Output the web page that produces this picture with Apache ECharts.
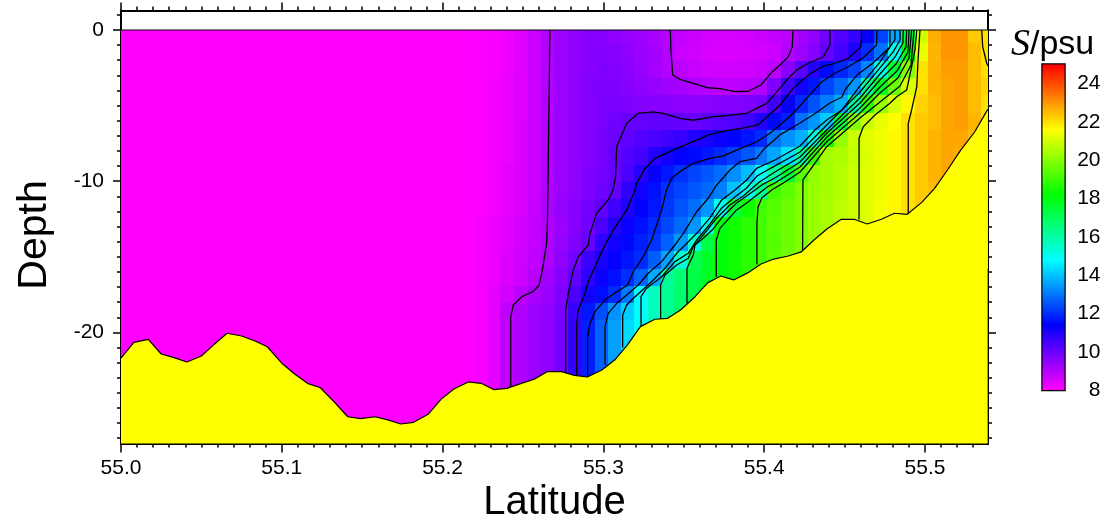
<!DOCTYPE html>
<html>
<head>
<meta charset="utf-8">
<title>S/psu section</title>
<script src="https://cdn.jsdelivr.net/npm/echarts@6/dist/echarts.min.js"></script>
<style>
html,body{margin:0;padding:0;background:#fff}
#chart{width:1104px;height:519px}
</style>
</head>
<body>
<div id="chart"></div>
<script>
// station latitudes, one per profile
var lats = [55.000,55.008,55.017,55.025,55.033,55.041,55.050,55.058,55.066,55.075,55.083,55.091,55.100,55.108,55.116,55.124,55.133,55.141,55.149,55.158,55.166,55.174,55.182,55.191,55.199,55.207,55.216,55.224,55.232,55.240,55.249,55.257,55.265,55.274,55.282,55.290,55.299,55.307,55.315,55.323,55.332,55.340,55.348,55.357,55.365,55.373,55.381,55.390,55.398,55.406,55.415,55.423,55.431,55.439,55.448,55.456,55.464,55.473,55.481,55.489,55.498,55.506,55.514,55.522,55.531,55.539];
// sea bed depth at each station
var seabed = [-21.71,-20.66,-20.46,-21.43,-21.67,-21.96,-21.56,-20.79,-20.06,-20.24,-20.55,-20.95,-22.04,-22.75,-23.37,-23.66,-24.65,-25.58,-25.71,-25.58,-25.79,-26.06,-25.95,-25.42,-24.43,-23.74,-23.28,-23.37,-23.79,-23.70,-23.37,-23.10,-22.60,-22.60,-22.85,-22.95,-22.49,-21.83,-20.83,-19.62,-19.13,-19.07,-18.52,-17.64,-16.71,-16.27,-16.53,-16.05,-15.48,-15.15,-14.95,-14.68,-13.89,-13.16,-12.52,-12.52,-12.83,-12.52,-12.12,-12.19,-11.40,-10.47,-9.26,-7.98,-6.73,-5.25];
// row edges of the salinity grid
var depthEdges = [0,-0.88,-2.03,-3.17,-4.32,-5.47,-6.61,-7.76,-8.90,-10.05,-11.20,-12.34,-13.49,-14.63,-15.78,-16.93,-18.07,-19.21,-20.36,-21.50,-22.65,-23.80,-24.94,-26.09];
// salinity west of the front is flat, drawn as one cell
var freshLatEdges = [55.0,55.195];
var freshSalinity = 8;
// salinity rows, top to bottom, first value is station 24 (rows stop at the sea bed)
var firstStation = 24;
var salinityRows = [
[8,8,8,8.05,8.1,8.2,8.4,8.7,9,9.3,9.5,9.6,9.6,9.5,9.4,9.3,9.15,9,8.8,8.7,8.6,8.55,8.55,8.6,8.7,8.8,8.9,9.2,9.5,9.9,10.3,10.7,11.3,12.3,13.6,17.5,21,22.7,23,23,22.3,22],
[8,8,8,8.05,8.1,8.2,8.4,8.7,9,9.3,9.5,9.6,9.65,9.6,9.5,9.35,9.2,9,8.75,8.65,8.55,8.5,8.5,8.55,8.6,8.7,9,9.3,9.6,10.05,10.5,11,12,12.9,15,18,21.3,22.6,23,23,22.5,22],
[8,8,8,8.05,8.1,8.2,8.4,8.7,9,9.3,9.5,9.6,9.7,9.65,9.55,9.4,9.2,9,8.9,8.75,8.65,8.6,8.6,8.65,8.75,8.9,9.6,10.2,10.9,11.5,11.9,12.3,13.2,15.1,17.5,20,22,22.6,22.9,22.9,22.5,22],
[8,8,8,8.05,8.15,8.25,8.4,8.7,9,9.3,9.5,9.65,9.7,9.7,9.6,9.5,9.4,9.3,9.2,9.1,9,8.9,8.9,8.95,9.05,9.7,10.6,11.2,11.7,12.3,12.8,13.4,16.2,17.8,19.6,21.1,22,22.6,22.8,22.9,22.5,22.2],
[8,8,8,8.05,8.15,8.25,8.4,8.7,9,9.3,9.5,9.65,9.75,9.75,9.7,9.65,9.6,9.6,9.55,9.55,9.55,9.6,9.65,9.7,9.85,10.5,11.3,11.95,12.5,13.05,13.7,16,18.8,20.2,21.05,21.7,22.2,22.5,22.8,22.9,22.5,22],
[8,8,8,8.05,8.15,8.25,8.45,8.7,9,9.3,9.5,9.65,9.75,9.9,10,10.05,10.1,10.1,10.05,10,10.15,10.25,10.35,10.55,10.95,11.5,11.8,12.9,13.4,14.1,17.5,20,20.9,21.3,21.6,22,22.3,22.5,22.8,22.9,22.6,22],
[8,8,8,8.05,8.15,8.25,8.45,8.7,9,9.3,9.5,9.65,9.8,9.95,10.15,10.3,10.4,10.55,10.7,10.95,11.1,11.25,11.45,11.65,11.95,12.9,13.35,13.75,15.2,18.4,20.2,20.9,21.2,21.4,21.7,22,22.3,22.6,22.8,22.8,22.5,22],
[8,8,8,8.05,8.15,8.25,8.45,8.7,9,9.3,9.5,9.65,9.8,10,10.3,10.5,10.9,11.15,11.35,11.5,11.7,11.95,12.2,12.55,13,13.6,14.4,16,18.9,20.4,20.5,20.8,21.15,21.4,21.7,22,22.3,22.6,22.8,22.7,22.5,22],
[8,8,8,8.05,8.15,8.3,8.5,8.7,9,9.3,9.5,9.7,9.85,10,10.4,10.9,11.3,11.7,12.05,12.3,12.55,12.85,13.3,13.9,14.9,16.1,17.5,19.3,20.15,20.4,20.6,20.9,21.2,21.4,21.7,22,22.3,22.6,22.8,22.7,22.5,22],
[8,8,8,8.05,8.15,8.3,8.5,8.75,9,9.3,9.5,9.7,9.9,10.1,10.8,11.2,11.6,12.05,12.3,12.55,12.8,13.1,14,15.2,16.4,19.1,19.4,19.9,20.2,20.4,20.6,20.9,21.2,21.4,21.7,22,22.3,22.5,22.8,22.7,22.5,22],
[8,8,8,8.05,8.15,8.3,8.5,8.8,9.1,9.4,9.6,9.85,10.1,10.55,11,11.35,11.7,12.1,12.5,12.85,13.4,15,17.5,18.4,19.05,19.35,19.65,19.95,20.2,20.45,20.7,20.95,21.2,21.45,21.7,22,22.3,22.5,22.8,22.7,22.5,22],
[8,8,8,8.1,8.25,8.4,8.6,8.8,9,9.3,9.6,9.9,10.4,10.9,11.25,11.6,11.95,12.35,12.8,13.4,15,18,18.4,18.75,19.1,19.4,19.65,19.95,20.2,20.45,20.75,20.95,21.2,21.45,21.7,22,22.3,22.5,22.8,22.7,22.5,22],
[8,8,8,8.1,8.25,8.4,8.6,8.8,9.05,9.4,9.7,10,10.8,11.2,11.5,11.8,12.1,12.7,13.45,15.3,17.3,18.1,18.4,18.7,19.1,19.35,19.65,19.95,20.25,20.5,20.75,20.95,21.2,21.45,21.7,22,22.3,22.5,22.8,22.7,22.5,22],
[8,8,8,8.1,8.25,8.45,8.65,8.85,9.1,9.5,9.85,10.6,11.1,11.35,11.65,11.95,12.65,13.6,15.4,17.1,17.7,18.1,18.4,18.75,19.1,19.4,19.7,20,20.25,20.5,20.75,20.95,21.2,21.45,21.7,22,22.3,22.5,22.8,22.7,22.5,22],
[8,8,8,8.1,8.25,8.45,8.7,8.95,9.25,9.6,10.1,10.8,11.25,11.6,12,12.7,13.7,16.15,16.7,17.25,17.75,18.15,18.4,18.75,19.1],
[8,8,8,8.1,8.3,8.6,8.9,9.15,9.35,9.7,10.4,11.15,11.55,11.95,13,14.8,15.65,16.25,16.75,17.25,17.7,18.15,18.4],
[8,8,8,8.1,8.35,8.85,9.1,9.3,9.45,9.75,10.7,11.7,12.45,13.35,14.15,14.9,15.7,16.25,16.75,17.25,17.7],
[8,8,8,8.1,8.35,8.85,9.1,9.3,9.5,9.8,10.75,11.8,12.7,13.55,14.3,14.95,15.7,16.25,16.75],
[8,8,8,8.1,8.35,8.85,9.1,9.3,9.5,9.8,10.75,11.8,12.7,13.55,14.3,14.95],
[8,8,8,8.1,8.35,8.85,9.1,9.3,9.5,9.8,10.75,11.8,12.7,13.55,14.3],
[8,8,8,8.1,8.35,8.85,9.1,9.3,9.5,9.8,10.75,11.8,12.7],
[8,8,8],
[8,8]
];

// contour lines, level 9 upward
var contour9 = [[55.2668,0],[55.2662,-4.63],[55.2655,-10.58],[55.2654,-11.9],[55.2647,-14.09],[55.2624,-15.66],[55.2601,-16.87],[55.2562,-17.31],[55.2492,-17.64],[55.2440,-18.19],[55.2424,-18.96],[55.2424,-23.7]];
var contour9b = [[55.3416,0],[55.3420,-1.32],[55.3431,-2.98],[55.3476,-3.26],[55.3559,-3.53],[55.3652,-3.82],[55.3725,-3.88],[55.3818,-4.08],[55.3901,-4.05],[55.3980,-3.64],[55.4049,-2.78],[55.4098,-2.31],[55.4150,-1.77],[55.4175,-1.10],[55.4179,0]];
var contour10 = [[55.4409,0],[55.4409,-0.99],[55.4368,-1.77],[55.4274,-2.20],[55.4202,-2.65],[55.4140,-3.31],[55.4098,-3.84],[55.4016,-4.85],[55.3891,-5.51],[55.3767,-5.67],[55.3683,-5.73],[55.3559,-5.97],[55.3476,-5.84],[55.3372,-5.51],[55.3310,-5.41],[55.3217,-5.51],[55.3145,-6.17],[55.3083,-7.72],[55.3076,-9.70],[55.3060,-10.58],[55.3030,-11.24],[55.2958,-12.12],[55.2917,-13.45],[55.2906,-14.22],[55.2844,-14.99],[55.2813,-15.87],[55.2782,-17.41],[55.2766,-18.52],[55.2766,-22.75]];
var contour11 = [[55.4606,0],[55.4602,-1.10],[55.4523,-1.87],[55.4440,-2.20],[55.4358,-2.43],[55.4274,-2.98],[55.4181,-3.86],[55.4098,-4.96],[55.3963,-6.28],[55.3860,-6.50],[55.3767,-6.66],[55.3663,-6.90],[55.3580,-7.28],[55.3497,-7.65],[55.3414,-8.05],[55.3321,-8.49],[55.3259,-9.15],[55.3207,-10.14],[55.3197,-10.58],[55.3145,-11.90],[55.3062,-13.23],[55.3010,-14.22],[55.2958,-15.43],[55.2906,-16.65],[55.2886,-17.41],[55.2844,-18.52],[55.2834,-19.40],[55.2834,-22.85]];
var contour12 = [[55.4701,0],[55.4699,-0.99],[55.4614,-1.85],[55.4523,-2.43],[55.4440,-2.86],[55.4358,-3.42],[55.4274,-4.41],[55.4181,-5.51],[55.4098,-6.28],[55.4036,-6.83],[55.3953,-7.39],[55.3829,-7.94],[55.3746,-8.33],[55.3663,-8.49],[55.3559,-8.82],[55.3476,-9.37],[55.3425,-9.81],[55.3393,-10.58],[55.3362,-11.90],[55.3300,-13.89],[55.3248,-14.99],[55.3186,-15.99],[55.3151,-16.87],[55.3083,-17.31],[55.3010,-17.86],[55.2948,-18.63],[55.2917,-19.40],[55.2902,-20.28],[55.2902,-22.95]];
var contour13 = [[55.4782,0],[55.4782,-1.12],[55.4677,-2.18],[55.4577,-2.98],[55.4502,-3.97],[55.4484,-4.43],[55.4409,-4.83],[55.4303,-5.62],[55.4202,-6.28],[55.4098,-6.94],[55.4005,-7.80],[55.3953,-8.49],[55.3849,-8.71],[55.3787,-9.26],[55.3705,-10.25],[55.3652,-11.13],[55.3580,-12.02],[55.3497,-13.45],[55.3445,-14.22],[55.3362,-15.32],[55.3279,-16.09],[55.3217,-16.87],[55.3145,-17.53],[55.3083,-18.08],[55.3030,-18.74],[55.3010,-19.62],[55.3010,-22.15]];
var contour14 = [[55.4813,0],[55.4813,-0.66],[55.4770,-1.32],[55.4720,-2.12],[55.4596,-3.70],[55.4484,-5.29],[55.4389,-5.95],[55.4316,-6.61],[55.4223,-7.67],[55.4067,-8.60],[55.3955,-9.13],[55.3891,-9.92],[55.3818,-10.58],[55.3736,-11.24],[55.3663,-12.43],[55.3590,-13.34],[55.3539,-13.89],[55.3456,-14.77],[55.3383,-15.76],[55.3290,-16.75],[55.3197,-17.64],[55.3145,-18.19],[55.3120,-18.85],[55.3120,-21.0]];
var contour15 = [[55.4845,0],[55.4845,-0.66],[55.4801,-1.46],[55.4720,-2.51],[55.4596,-4.10],[55.4389,-6.28],[55.4223,-8.07],[55.4067,-8.99],[55.3955,-9.66],[55.3891,-10.45],[55.3818,-11.05],[55.3736,-11.77],[55.3663,-12.83],[55.3580,-13.89],[55.3528,-14.77],[55.3445,-15.32],[55.3363,-16.32],[55.3269,-17.08],[55.3234,-17.64],[55.3234,-19.62]];
var contour16 = [[55.4865,0],[55.4863,-0.86],[55.4813,-1.79],[55.4720,-2.91],[55.4596,-4.50],[55.4389,-6.61],[55.4223,-8.40],[55.4067,-9.39],[55.3970,-10.05],[55.3870,-10.98],[55.3787,-11.57],[55.3705,-12.43],[55.3642,-13.29],[55.3559,-14.33],[55.3528,-15.10],[55.3456,-15.54],[55.3383,-16.20],[55.3356,-16.87],[55.3356,-19.07]];
var contour17 = [[55.4886,0],[55.4882,-1.12],[55.4820,-2.25],[55.4720,-3.31],[55.4596,-4.83],[55.4389,-6.83],[55.4223,-8.73],[55.4067,-9.79],[55.3994,-10.19],[55.3891,-10.98],[55.3829,-11.44],[55.3746,-12.30],[55.3683,-13.16],[55.3621,-13.78],[55.3570,-14.22],[55.3559,-14.88],[55.3520,-15.76],[55.3520,-18.08]];
var contour18 = [[55.4901,0],[55.4894,-1.46],[55.4826,-2.71],[55.4720,-3.77],[55.4596,-5.16],[55.4389,-7.10],[55.4223,-9.06],[55.4067,-10.12],[55.4019,-10.38],[55.3891,-11.44],[55.3829,-11.90],[55.3725,-13.12],[55.3702,-13.89],[55.3702,-16.32]];
var contour19 = [[55.4917,0],[55.4901,-1.85],[55.4832,-3.17],[55.4720,-4.17],[55.4596,-5.49],[55.4389,-7.39],[55.4223,-9.39],[55.4129,-10.05],[55.4047,-10.58],[55.3985,-11.11],[55.3962,-11.71],[55.3955,-12.76],[55.3955,-15.51]];
var contour20 = [[55.4932,0],[55.4913,-2.31],[55.4845,-3.70],[55.4720,-4.76],[55.4596,-5.82],[55.4389,-7.72],[55.4285,-9.26],[55.4241,-9.92],[55.4239,-14.68]];
var contour21 = [[55.4949,0],[55.4938,-1.32],[55.4917,-2.43],[55.4886,-3.97],[55.4824,-4.41],[55.4782,-4.85],[55.4689,-5.62],[55.4616,-6.40],[55.4590,-7.16],[55.4590,-12.53]];
var contour22 = [[55.4969,0],[55.4957,-1.98],[55.4949,-3.75],[55.4917,-5.29],[55.4896,-6.17],[55.4896,-12.19]];
var contour23 = [[55.5353,0],[55.5359,-1.10],[55.5384,-2.20],[55.5392,-2.38]];
var contourLines = [contour9,contour9b,contour10,contour11,contour12,contour13,contour14,contour15,contour16,contour17,contour18,contour19,contour20,contour21,contour22,contour23];

var surfaceLine = [[55.0,0],[55.539,0]];

// colour scale
var colormap = ['#ff00ff','#0000ff','#00ffff','#00ff00','#ffff00','#ff0000'];
var colorbarRange = [8,25];

// tick lists
var latTicks = [55.0,55.1,55.2,55.3,55.4,55.5];
var latMinorTicks = [55.01,55.02,55.03,55.04,55.05,55.06,55.07,55.08,55.09,55.11,55.12,55.13,55.14,55.15,55.16,55.17,55.18,55.19,55.21,55.22,55.23,55.24,55.25,55.26,55.27,55.28,55.29,55.31,55.32,55.33,55.34,55.35,55.36,55.37,55.38,55.39,55.41,55.42,55.43,55.44,55.45,55.46,55.47,55.48,55.49,55.51,55.52,55.53];
var depthTicks = [-20,-10,0];
var depthMinorTicks = [1,-1,-2,-3,-4,-5,-6,-7,-8,-9,-11,-12,-13,-14,-15,-16,-17,-18,-19,-21,-22,-23,-24,-25,-26,-27];

var latRange = [55.0,55.5392];
var depthRange = [-27.35,1.29];

// cell edges sit half way between neighbouring stations
function edgeWest(k){ return k === 0 ? lats[0] : (lats[k-1]+lats[k])/2; }
function edgeEast(k){ return k === lats.length-1 ? lats[k] : (lats[k]+lats[k+1])/2; }

var cells = [[freshLatEdges[0],edgeWest(firstStation),depthEdges[0],depthEdges[depthEdges.length-1],freshSalinity]];
salinityRows.forEach(function(row,r){
    row.forEach(function(s,i){
        var k = firstStation+i;
        cells.push([edgeWest(k),edgeEast(k),depthEdges[r],depthEdges[r+1],s]);
    });
});

var blackLine = {color:'#000',width:2};
function xAxisOf(position,ticks,len,labels){
    return {
        type:'value',gridIndex:0,position:position,min:latRange[0],max:latRange[1],
        axisLine:{show:true,onZero:false,lineStyle:blackLine},
        axisTick:{show:true,length:len,customValues:ticks,lineStyle:{color:'#000',width:1.5}},
        axisLabel:labels?{show:true,customValues:latTicks,color:'#000',fontSize:21,margin:14,fontFamily:'Liberation Sans',
            formatter:function(v){return v.toFixed(1);}}:{show:false},
        splitLine:{show:false}
    };
}
function yAxisOf(position,ticks,len,labels){
    return {
        type:'value',gridIndex:0,position:position,min:depthRange[0],max:depthRange[1],
        axisLine:{show:true,onZero:false,lineStyle:blackLine},
        axisTick:{show:true,length:len,customValues:ticks,lineStyle:{color:'#000',width:1.5}},
        axisLabel:labels?{show:true,customValues:depthTicks,color:'#000',fontSize:21,margin:17,fontFamily:'Liberation Sans'}:{show:false},
        splitLine:{show:false}
    };
}

var series = [{
    type:'custom',
    xAxisIndex:0,yAxisIndex:0,
    clip:true,silent:true,z:1,
    encode:{x:[0,1],y:[2,3]},
    data:cells,
    renderItem:function(params,api){
        var a = api.coord([api.value(0),api.value(2)]);
        var b = api.coord([api.value(1),api.value(3)]);
        var x0 = Math.round(a[0]), y0 = Math.round(a[1]);
        return {
            type:'rect',
            shape:echarts.graphic.clipRectByRect(
                {x:x0,y:y0,width:Math.round(b[0])-x0,height:Math.round(b[1])-y0},
                {x:params.coordSys.x,y:params.coordSys.y,width:params.coordSys.width,height:params.coordSys.height}),
            style:{fill:api.visual('color')}
        };
    }
}];
contourLines.forEach(function(line){
    series.push({
        type:'line',xAxisIndex:0,yAxisIndex:0,data:line,showSymbol:false,silent:true,z:3,
        lineStyle:{color:'#000',width:1.3},clip:true
    });
});
series.push({
    type:'line',xAxisIndex:0,yAxisIndex:0,z:4,silent:true,showSymbol:false,
    data:surfaceLine,lineStyle:{color:'#000',width:1}
});
series.push({
    type:'line',xAxisIndex:0,yAxisIndex:0,z:5,silent:true,showSymbol:false,
    data:lats.map(function(lat,i){return [lat,seabed[i]];}),
    lineStyle:{color:'#000',width:1.2},
    areaStyle:{color:'#ffff00',opacity:1,origin:'start'}
});
// colour bar
series.push({
    type:'custom',xAxisIndex:4,yAxisIndex:4,silent:true,z:2,
    encode:{x:[0,1],y:[2,3]},
    data:[[0,1,colorbarRange[0],colorbarRange[1]]],
    renderItem:function(params,api){
        var a = api.coord([api.value(0),api.value(2)]);
        var b = api.coord([api.value(1),api.value(3)]);
        return {
            type:'rect',
            shape:{x:a[0],y:b[1],width:b[0]-a[0],height:a[1]-b[1]},
            style:{fill:new echarts.graphic.LinearGradient(0,1,0,0,colormap.map(function(c,i){
                return {offset:i/(colormap.length-1),color:c};
            }))}
        };
    }
});

var myChart = echarts.init(document.getElementById('chart'),null,{renderer:'canvas'});
myChart.setOption({
    animation:false,
    backgroundColor:'#fff',
    grid:[
        {left:121,top:10.5,width:867,height:433,outerBoundsMode:'none'},
        {left:1042.5,top:64.5,width:22,height:325.5,outerBoundsMode:'none',show:true,borderColor:'#000',borderWidth:2.5,backgroundColor:'transparent'}
    ],
    xAxis:[
        Object.assign(xAxisOf('bottom',latTicks,9,true),{name:'Latitude',nameLocation:'middle',nameGap:39,
            nameTextStyle:{color:'#000',fontSize:40,fontFamily:'Liberation Sans'}}),
        xAxisOf('top',latTicks,8,false),
        xAxisOf('bottom',latMinorTicks,4,false),
        xAxisOf('top',latMinorTicks,4,false),
        {type:'value',gridIndex:1,min:0,max:1,show:false}
    ],
    yAxis:[
        yAxisOf('left',depthTicks,8,true),
        yAxisOf('right',depthTicks,8,false),
        yAxisOf('left',depthMinorTicks,4,false),
        yAxisOf('right',depthMinorTicks,4,false),
        {type:'value',gridIndex:1,position:'right',min:colorbarRange[0],max:colorbarRange[1],interval:2,
            axisLine:{show:false},
            axisTick:{show:true,length:8,lineStyle:{color:'#000',width:1.5}},
            axisLabel:{show:true,color:'#000',fontSize:21,margin:36,align:'right',fontFamily:'Liberation Sans'},
            splitLine:{show:false}}
    ],
    visualMap:{
        show:false,type:'continuous',seriesIndex:0,dimension:4,
        min:colorbarRange[0],max:colorbarRange[1],
        inRange:{color:colormap}
    },
    title:{
        left:1011,top:26,padding:0,
        text:'{s|S}{p|/psu}',
        textStyle:{fontWeight:'normal',rich:{
            s:{fontFamily:'Liberation Serif',fontStyle:'italic',fontWeight:'normal',fontSize:38,color:'#000'},
            p:{fontFamily:'Liberation Sans',fontWeight:'normal',fontSize:34,color:'#000'}
        }}
    },
    graphic:[{
        type:'text',x:35,y:235,rotation:Math.PI/2,silent:true,
        style:{text:'Depth',fill:'#000',font:'41px "Liberation Sans"',align:'center',verticalAlign:'middle'}
    }],
    series:series
});
</script>
</body>
</html>
